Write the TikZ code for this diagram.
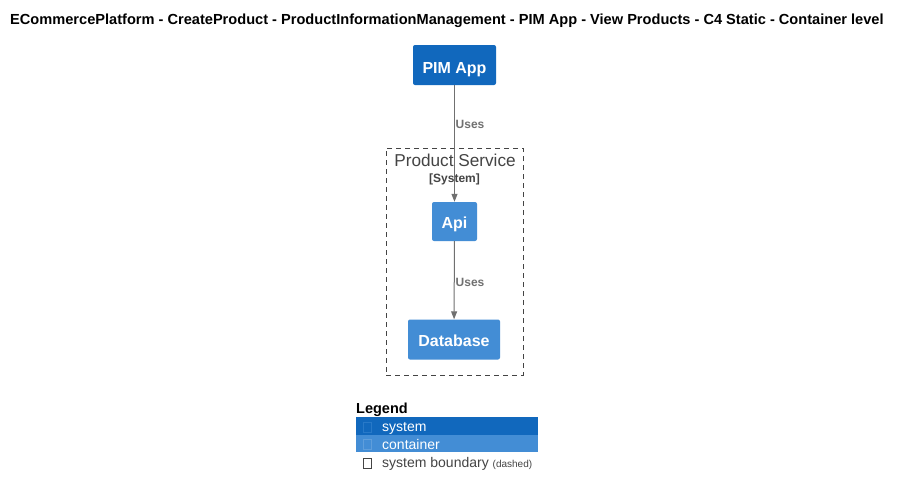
\documentclass[tikz,border=0pt]{standalone}
\usepackage{fontspec}
\setmainfont{Liberation Sans}
\usetikzlibrary{arrows.meta}
\definecolor{sysblue}{HTML}{1168BD}
\definecolor{contblue}{HTML}{438DD5}
\definecolor{relgray}{HTML}{707070}
\definecolor{bndgray}{HTML}{444444}
\tikzset{
  elem/.style={rectangle, rounded corners=2pt, text=white, font=\fontsize{16}{18}\selectfont\bfseries, inner sep=0pt, text height=14.5pt, text depth=0pt},
  rel/.style={draw=relgray, line width=1pt, -{Triangle[length=8pt,width=6pt]}},
  rellabel/.style={anchor=base west, inner sep=0pt, text=relgray, font=\fontsize{12}{14}\selectfont\bfseries},
  boundary/.style={draw=bndgray, line width=0.8pt, dash pattern=on 5pt off 4pt, inner sep=0pt},
  legtext/.style={anchor=base west, inner sep=0pt, font=\fontsize{14}{16}\selectfont},
  glyph/.style={draw, line width=0.5pt, minimum width=8pt, minimum height=10pt, inner sep=0pt}
}
\begin{document}
\begin{tikzpicture}[x=1pt,y=-1pt]
\useasboundingbox[fill=white] (0,0) rectangle (901,496);
% title
\node[anchor=base west, inner sep=0pt, font=\fontsize{14.6}{16}\selectfont\bfseries] (title) at (10,24) {ECommercePlatform - CreateProduct - ProductInformationManagement - PIM App - View Products - C4 Static - Container level};
% boundary
\node[boundary, minimum width=137pt, minimum height=227pt] (ps) at (454.5,261.5) {};
\node[anchor=base, inner sep=0pt, text=bndgray, font=\fontsize{17.2}{18}\selectfont] (pstitle) at (455,166.7) {Product Service};
\node[anchor=base, inner sep=0pt, text=bndgray, font=\fontsize{12}{14}\selectfont\bfseries] (pstype) at (454.5,182.5) {[System]};
% elements
\node[elem, fill=sysblue, minimum width=83pt, minimum height=40pt, text height=16pt] (pim) at (454.5,65) {PIM App};
\node[elem, fill=contblue, minimum width=45pt, minimum height=39pt] (api) at (454.5,221.5) {Api};
\node[elem, fill=contblue, minimum width=92pt, minimum height=40pt] (db) at (454,339.5) {Database};
% relationships
\coordinate (l1pos) at (455.5,128.3);
\coordinate (l2pos) at (455.5,286.3);
\draw[rel] (pim) -- (api);
\draw[rel] (api) -- (db);
\node[rellabel] (l1) at (l1pos) {Uses};
\node[rellabel] (l2) at (l2pos) {Uses};
% legend
\node[anchor=base west, inner sep=0pt, font=\fontsize{14.5}{16}\selectfont\bfseries] (leg) at (356,413.3) {Legend};
\fill[sysblue] (356,417) rectangle (538,434.5);
\fill[contblue] (356,434.5) rectangle (538,452);
\node[glyph, draw=contblue!45!sysblue] (g1) at (367,427.5) {};
\node[glyph, draw=contblue!85!white] (g2) at (367,444.5) {};
\node[glyph, draw=bndgray] (g3) at (367,463) {};
\node[legtext, text=white] (t1) at (382,431.5) {system};
\node[legtext, text=white] (t2) at (382,449) {container};
\node[legtext, text=bndgray] (t3) at (382,467.5) {system boundary \fontsize{10}{12}\selectfont(dashed)};
\end{tikzpicture}
\end{document}
